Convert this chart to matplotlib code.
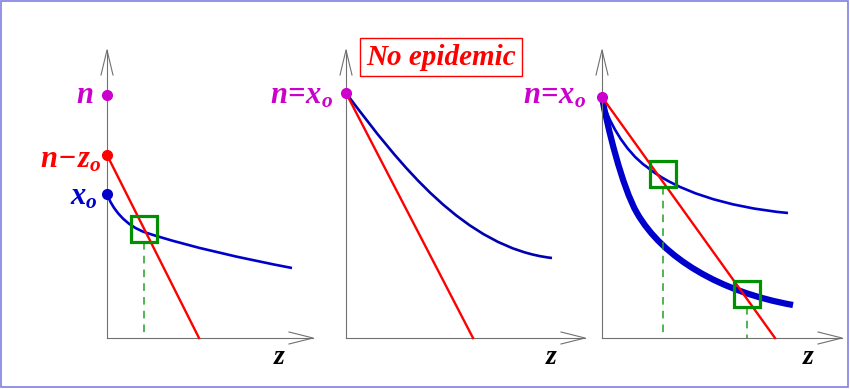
import matplotlib
matplotlib.use('Agg')
import matplotlib.pyplot as plt
from matplotlib.patches import Rectangle, PathPatch
from matplotlib.path import Path

matplotlib.rcParams['font.family'] = 'Liberation Serif'
matplotlib.rcParams['mathtext.fontset'] = 'custom'
matplotlib.rcParams['mathtext.it'] = 'Liberation Serif:italic:bold'
matplotlib.rcParams['mathtext.rm'] = 'Liberation Serif:italic:bold'
matplotlib.rcParams['mathtext.bf'] = 'Liberation Serif:italic:bold'
matplotlib.rcParams['mathtext.bfit'] = 'Liberation Serif:italic:bold'

# diagram coordinates (pixels, y down)
axis_origins = [(107, 338), (346, 338), (602, 338)]
axis_top = 50
axis_right = [313, 585, 842]

# curves as cubic bezier control points: start, c1, c2, end, c1, c2, end ...
p1_red = [(107, 155), (199, 338)]
p1_blue = [(107, 194), (112, 208), (125, 226), (147, 233),
           (190, 247), (245, 259), (292, 268)]
p1_dots = [(107, 95, '#cc00cc'), (107, 155, '#ff0000'), (107, 194, '#0000cc')]
p1_square = (144, 229)
p1_labels = [(93, 95, r'$\mathbfit{n}$', '#cc00cc'),
             (101, 160, r'$\mathbfit{n\!-\!z_o}$', '#ff0000'),
             (98, 197, r'$\mathbfit{x_o}$', '#0000cc')]

p2_red = [(346, 93), (473, 338)]
p2_blue = [(346, 93), (400, 165), (465, 248), (552, 258)]

p3_red = [(602, 97), (775, 338)]
p3_thin = [(602, 97), (606, 118), (625, 152), (647, 167),
           (675, 190), (725, 207), (788, 213)]
p3_thick = [(602, 97), (607, 125), (622, 187), (637, 213),
            (663, 258), (720, 292), (793, 305)]
p3_squares = [(663, 174), (747, 294)]

fig = plt.figure(figsize=(8.5, 3.89), dpi=100)
ax = fig.add_axes([0, 0, 1, 1])
ax.set_xlim(0, 850)
ax.set_ylim(389, 0)
ax.axis('off')

# frame
ax.add_patch(Rectangle((1, 1), 847, 386, fill=False, ec='#8080e0', lw=1.2))

gray = '#707070'
for (ox, oy), xr in zip(axis_origins, axis_right):
    ax.plot([ox, ox], [oy, axis_top], color=gray, lw=0.8)
    ax.plot([ox - 6, ox, ox + 6], [axis_top + 25, axis_top, axis_top + 25], color=gray, lw=0.8)
    ax.plot([ox, xr], [oy, oy], color=gray, lw=0.8)
    ax.plot([xr - 24, xr, xr - 24], [oy - 6, oy, oy + 6], color=gray, lw=0.8)
    ax.text(xr - 33, oy + 20, r'$\mathbfit{z}$', fontsize=20, color='black', ha='center', va='center')


def bezier(pts, color, lw):
    codes = [Path.MOVETO] + [Path.CURVE4] * (len(pts) - 1)
    ax.add_patch(PathPatch(Path(pts, codes), fill=False, ec=color, lw=lw, capstyle='butt'))


def line(pts, color='#ff0000', lw=1.7):
    ax.plot([p[0] for p in pts], [p[1] for p in pts], color=color, lw=lw)


def green_square(cx, cy, s=26):
    ax.add_patch(Rectangle((cx - s / 2, cy - s / 2), s, s, fill=False, ec='#009000', lw=2.3, zorder=5))
    ax.plot([cx, cx], [cy + s / 2, 338], color='#22a022', lw=1.1, ls=(0, (5, 4)))


# panel 1
line(p1_red)
bezier(p1_blue, '#0000cc', 1.9)
for x, y, c in p1_dots:
    ax.plot(x, y, 'o', color=c, ms=7, zorder=6)
for x, y, s, c in p1_labels:
    ax.text(x, y, s, color=c, fontsize=22, ha='right', va='center')
green_square(*p1_square)

# panel 2
line(p2_red)
bezier(p2_blue, '#0000b0', 1.9)
ax.plot(346, 93, 'o', color='#cc00cc', ms=7, zorder=6)
ax.text(333, 96, r'$\mathbfit{n\!=\!x_o}$', color='#cc00cc', fontsize=22, ha='right', va='center')
ax.text(441, 57, 'No epidemic', color='#ff0000', fontsize=21, fontweight='bold', style='italic',
        ha='center', va='center',
        bbox=dict(boxstyle='square,pad=0.2', fc='white', ec='#ff0000', lw=1.0))

# panel 3
line(p3_red)
bezier(p3_thin, '#0000cc', 1.9)
bezier(p3_thick, '#0000cc', 4.5)
ax.plot(602, 97, 'o', color='#cc00cc', ms=7, zorder=6)
ax.text(586, 96, r'$\mathbfit{n\!=\!x_o}$', color='#cc00cc', fontsize=22, ha='right', va='center')
for cx, cy in p3_squares:
    green_square(cx, cy)

fig.savefig('out.png', dpi=100)
